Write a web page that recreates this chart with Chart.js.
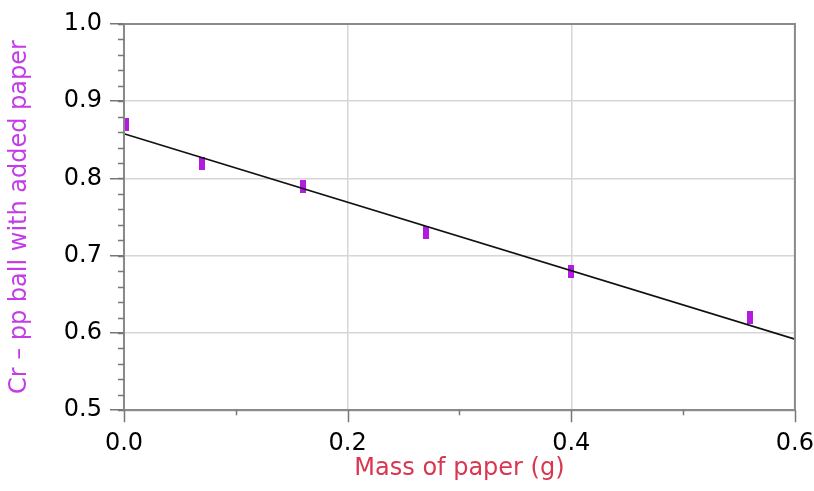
<!DOCTYPE html>
<html><head><meta charset="utf-8">
<script src="https://cdn.jsdelivr.net/npm/chart.js@4"></script>
<style>html,body{margin:0;padding:0;background:#fff}#wrap{width:814px;height:491px}</style>
</head><body><div id="wrap"><canvas id="c" width="814" height="491"></canvas></div>
<script>
const massX = [0.002, 0.07, 0.16, 0.27, 0.40, 0.56];
const crY = [0.87, 0.82, 0.79, 0.73, 0.68, 0.62];
const fitX = [0.0, 0.6];
const fitY = [0.858, 0.592];
const xTicks = [0.0, 0.2, 0.4, 0.6];
const yTicks = [0.5, 0.6, 0.7, 0.8, 0.9, 1.0];

const mk = document.createElement('canvas');
mk.width = 6; mk.height = 13;
const mctx = mk.getContext('2d');
mctx.fillStyle = '#b41be0';
mctx.fillRect(0, 0, 6, 13);

const frame = {
  id: 'frame',
  afterDraw(chart) {
    const {ctx, chartArea: a, scales} = chart;
    ctx.save();
    ctx.strokeStyle = '#8a8a8a';
    ctx.lineWidth = 2;
    ctx.strokeRect(a.left, a.top, a.right - a.left, a.bottom - a.top);
    ctx.lineWidth = 1.5;
    ctx.strokeStyle = '#777';
    ctx.beginPath();
    for (let v = 0.5; v <= 1.0001; v += 0.02) {
      const y = Math.round(scales.y.getPixelForValue(v)) + 0.5;
      ctx.moveTo(a.left - 6, y); ctx.lineTo(a.left, y);
    }
    for (const v of [0.1, 0.3, 0.5]) {
      const x = Math.round(scales.x.getPixelForValue(v)) + 0.5;
      ctx.moveTo(x, a.bottom); ctx.lineTo(x, a.bottom + 5);
    }
    for (const v of xTicks) {
      const x = Math.round(scales.x.getPixelForValue(v)) + 0.5;
      ctx.moveTo(x, a.bottom); ctx.lineTo(x, a.bottom + 12);
    }
    ctx.stroke();
    ctx.restore();
  }
};

new Chart(document.getElementById('c'), {
  type: 'scatter',
  data: {
    datasets: [
      {
        type: 'line',
        data: fitX.map((x, i) => ({x, y: fitY[i]})),
        borderColor: '#111',
        borderWidth: 1.6,
        pointRadius: 0,
        fill: false
      },
      {
        data: massX.map((x, i) => ({x, y: crY[i]})),
        pointStyle: mk,
        pointRadius: 6,
        backgroundColor: '#b41be0',
        borderColor: '#b41be0'
      }
    ]
  },
  options: {
    responsive: false,
    animation: false,
    layout: {padding: {left: 5, right: 0, top: 24, bottom: 8}},
    plugins: {legend: {display: false}, tooltip: {enabled: false}},
    scales: {
      x: {
        type: 'linear', min: 0, max: 0.6,
        afterBuildTicks: s => { s.ticks = xTicks.map(v => ({value: v})); },
        ticks: {
          color: '#000', padding: 0,
          font: {family: 'DejaVu Sans', size: 24, lineHeight: 1.0},
          callback: v => Number(v).toFixed(1)
        },
        grid: {color: '#d6d6d6', lineWidth: 1.5, tickLength: 22, tickColor: 'rgba(0,0,0,0)', tickWidth: 1.5},
        border: {color: '#8a8a8a', width: 2},
        title: {
          display: true, text: 'Mass of paper (g)', color: '#d9364f',
          font: {family: 'DejaVu Sans', size: 24}, padding: {top: -2, bottom: 0}
        }
      },
      y: {
        type: 'linear', min: 0.5, max: 1.0,
        afterBuildTicks: s => { s.ticks = yTicks.map(v => ({value: v})); },
        ticks: {
          color: '#000', padding: 8,
          font: {family: 'DejaVu Sans', size: 24},
          callback: v => Number(v).toFixed(1)
        },
        grid: {color: '#d6d6d6', lineWidth: 1.5, tickLength: 14, tickColor: '#777', tickWidth: 1.5},
        border: {color: '#8a8a8a', width: 2},
        title: {
          display: true, text: 'Cr – pp ball with added paper', color: '#c43be8',
          font: {family: 'DejaVu Sans', size: 24}, padding: {top: 0, bottom: 22}
        }
      }
    }
  },
  plugins: [frame]
});
</script>
</body></html>
